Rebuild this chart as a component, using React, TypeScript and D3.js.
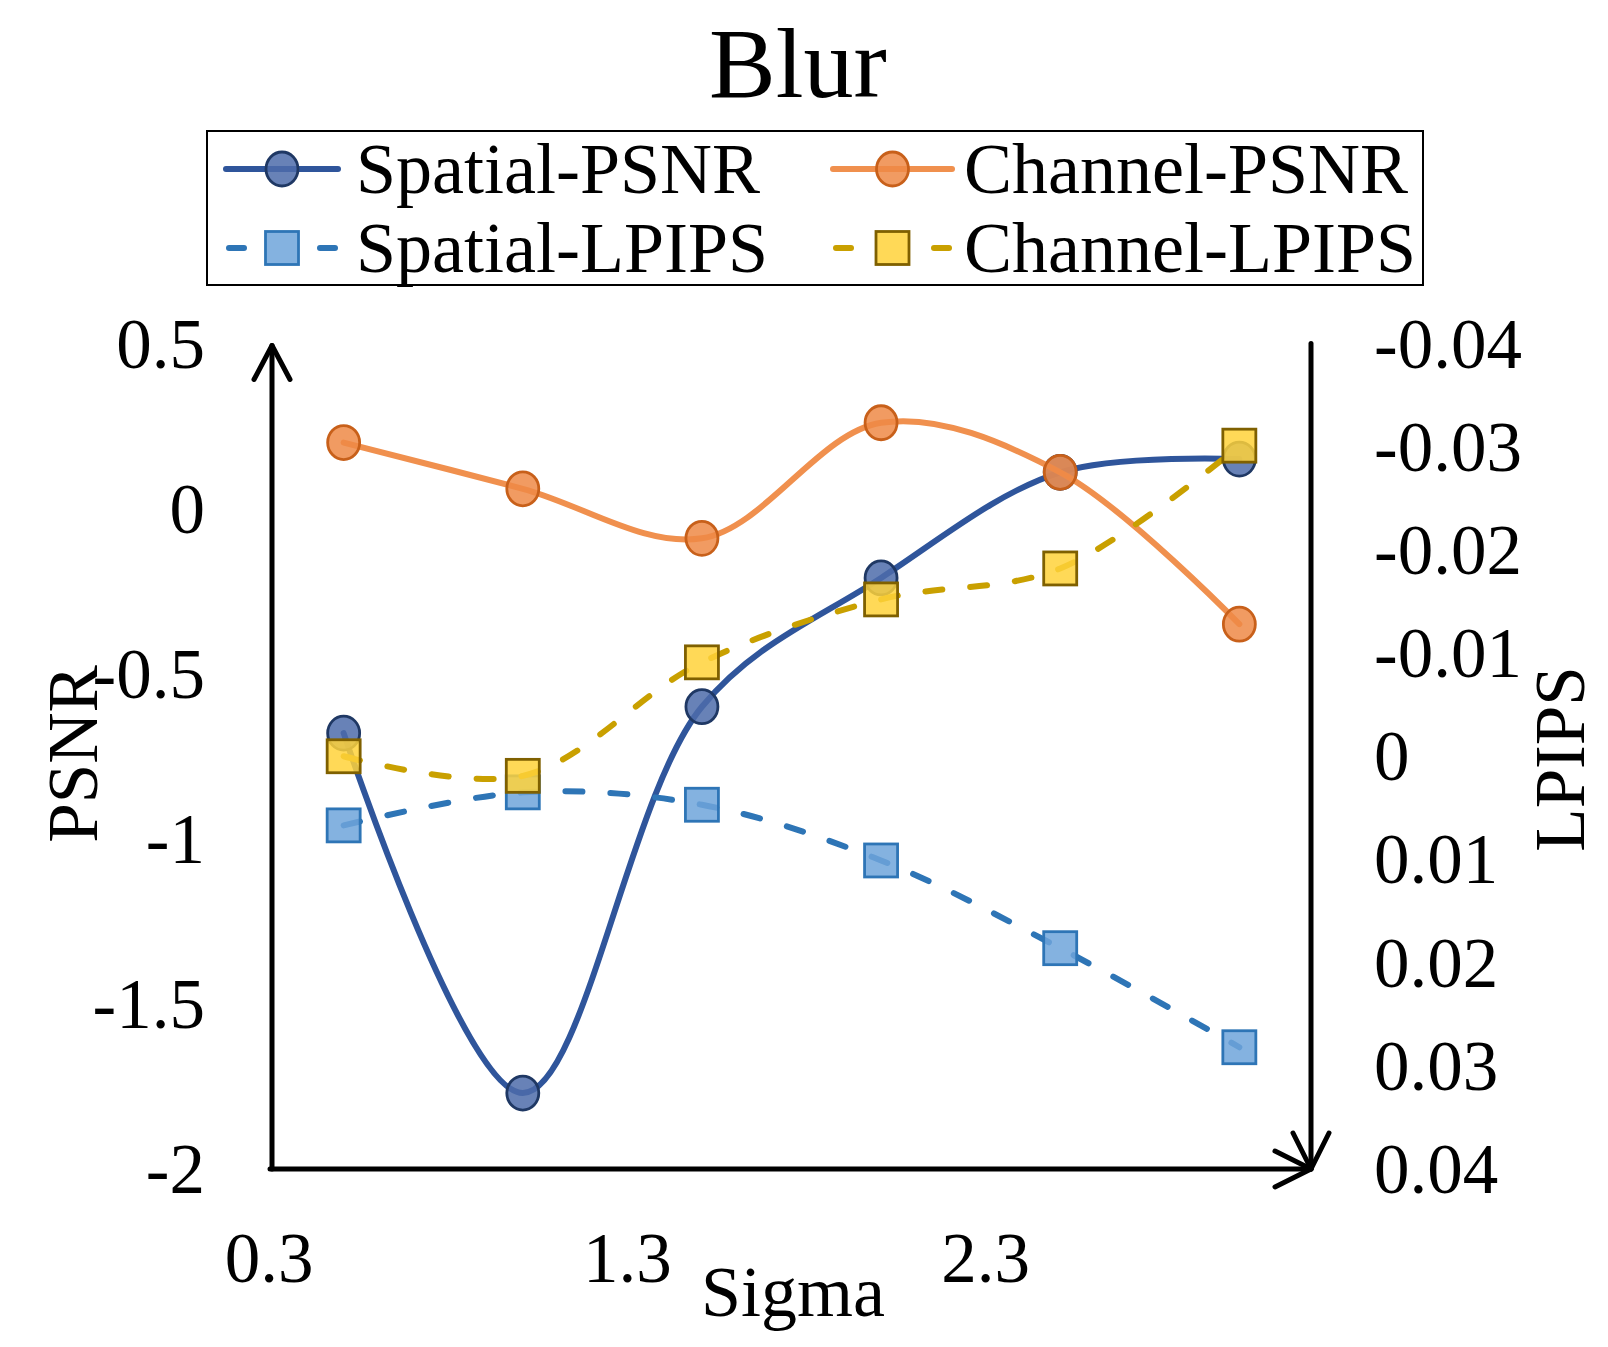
import React from "react";
import * as d3 from "d3";

const sigma = [0.5, 1.0, 1.5, 2.0, 2.5, 3.0];
const spatialPSNR = [-0.68, -1.77, -0.6, -0.21, 0.11, 0.15];
const channelPSNR = [0.2, 0.06, -0.09, 0.26, 0.11, -0.35];
const spatialLPIPS = [0.0067, 0.0035, 0.0047, 0.0101, 0.0186, 0.0282];
const channelLPIPS = [0.0, 0.0019, -0.0091, -0.0152, -0.0182, -0.0301];

const xTicks = [0.3, 1.3, 2.3];
const psnrTicks = [0.5, 0, -0.5, -1, -1.5, -2];
const lpipsTicks = [-0.04, -0.03, -0.02, -0.01, 0, 0.01, 0.02, 0.03, 0.04];

const W = 1608;
const H = 1347;
const FONT = "'Liberation Serif', 'Times New Roman', serif";

const x = d3.scaleLinear().domain([0.3, 3.2]).range([272, 1311]);
const yL = d3.scaleLinear().domain([-2, 0.5]).range([1169, 343.5]);
const yR = d3.scaleLinear().domain([0.04, -0.04]).range([1169, 343.5]);

type Series = {
  name: string;
  values: number[];
  axis: "L" | "R";
  line: string;
  fill: string;
  stroke: string;
  marker: "circle" | "square";
  dash?: string;
};

const series: Series[] = [
  { name: "Spatial-PSNR", values: spatialPSNR, axis: "L", line: "#2F559B", fill: "#4D6CAA", stroke: "#1F3864", marker: "circle" },
  { name: "Spatial-LPIPS", values: spatialLPIPS, axis: "R", line: "#2E75B6", fill: "#6FA5DB", stroke: "#2E75B6", marker: "square", dash: "17 28" },
  { name: "Channel-PSNR", values: channelPSNR, axis: "L", line: "#F0904E", fill: "#EF8A46", stroke: "#C8601A", marker: "circle" },
  { name: "Channel-LPIPS", values: channelLPIPS, axis: "R", line: "#C9A000", fill: "#FFD23A", stroke: "#7F6000", marker: "square", dash: "17 28" },
];

const lineGen = (ys: d3.ScaleLinear<number, number>) =>
  d3
    .line<[number, number]>()
    .x((d) => x(d[0]))
    .y((d) => ys(d[1]))
    .curve(d3.curveCatmullRom.alpha(0.5));

function Marker({ s, cx, cy }: { s: Series; cx: number; cy: number }) {
  if (s.marker === "circle") {
    return (
      <ellipse cx={cx} cy={cy} rx={16} ry={17} fill={s.fill} fillOpacity={0.85} stroke={s.stroke} strokeWidth={2.8} />
    );
  }
  return (
    <rect x={cx - 16.5} y={cy - 16.5} width={33} height={33} fill={s.fill} fillOpacity={0.85} stroke={s.stroke} strokeWidth={2.8} />
  );
}

const legendPos = [
  { lx1: 226, lx2: 338, y: 169, tx: 356 },
  { lx1: 226, lx2: 338, y: 248, tx: 356 },
  { lx1: 833, lx2: 952, y: 169, tx: 964 },
  { lx1: 833, lx2: 952, y: 248, tx: 964 },
];

export default function App() {
  const xAxisY = yL(-2);
  const leftX = x(0.3);
  const rightX = x(3.2);
  const topY = yL(0.5);
  return (
    <svg width={W} height={H} style={{ position: "absolute", left: 0, top: 0, background: "#fff" }} fontFamily={FONT}>
      <rect x={0} y={0} width={W} height={H} fill="#fff" />
      {/* Title */}
      <text x={798} y={97} fontSize={100} textAnchor="middle" fill="#000">Blur</text>

      {/* Legend */}
      <rect x={207} y={131} width={1216} height={154} fill="none" stroke="#000" strokeWidth={2} />
      {series.map((s, i) => {
        const p = legendPos[i];
        const mx = (p.lx1 + p.lx2) / 2;
        return (
          <g key={s.name}>
            {s.dash ? (
              <g stroke={s.line} strokeWidth={6} strokeLinecap="round">
                <line x1={p.lx1 + 3} x2={p.lx1 + 18} y1={p.y} y2={p.y} />
                <line x1={p.lx2 - 18} x2={p.lx2 - 3} y1={p.y} y2={p.y} />
              </g>
            ) : (
              <line x1={p.lx1} x2={p.lx2} y1={p.y} y2={p.y} stroke={s.line} strokeWidth={6} strokeLinecap="round" />
            )}
            <Marker s={s} cx={mx} cy={p.y} />
            <text x={p.tx} y={p.y + 24} fontSize={72} fill="#000">{s.name}</text>
          </g>
        );
      })}

      {/* Axes */}
      <g stroke="#000" strokeWidth={5} fill="none" strokeLinecap="round" strokeLinejoin="round">
        <line x1={leftX} x2={leftX} y1={xAxisY} y2={topY + 2} />
        <polyline points={`${leftX - 18},${topY + 36} ${leftX},${topY + 2} ${leftX + 18},${topY + 36}`} />
        <line x1={leftX - 2} x2={rightX} y1={xAxisY} y2={xAxisY} />
        <polyline points={`${rightX - 36},${xAxisY - 18} ${rightX},${xAxisY} ${rightX - 36},${xAxisY + 18}`} />
        <line x1={rightX} x2={rightX} y1={topY} y2={xAxisY} />
        <polyline points={`${rightX - 18},${xAxisY - 36} ${rightX},${xAxisY} ${rightX + 18},${xAxisY - 36}`} />
      </g>

      {/* Left ticks */}
      {psnrTicks.map((t) => (
        <text key={"l" + t} x={205} y={yL(t) + 24} fontSize={71} textAnchor="end" fill="#000">{String(t)}</text>
      ))}
      {/* Right ticks */}
      {lpipsTicks.map((t) => (
        <text key={"r" + t} x={1374} y={yR(t) + 24} fontSize={71} textAnchor="start" fill="#000">{t === 0 ? "0" : String(t)}</text>
      ))}
      {/* X ticks */}
      {xTicks.map((t) => (
        <text key={"x" + t} x={x(t) - 3} y={1282} fontSize={71} textAnchor="middle" fill="#000">{t.toFixed(1)}</text>
      ))}

      {/* Axis titles */}
      <text x={793} y={1316} fontSize={72} textAnchor="middle" fill="#000">Sigma</text>
      <text transform={`translate(97,754) rotate(-90)`} fontSize={71} textAnchor="middle" fill="#000">PSNR</text>
      <text transform={`translate(1584,759) rotate(-90)`} fontSize={71} textAnchor="middle" fill="#000">LPIPS</text>

      {/* Series */}
      {series.map((s) => {
        const ys = s.axis === "L" ? yL : yR;
        const pts = sigma.map((v, i) => [v, s.values[i]] as [number, number]);
        return (
          <g key={s.name}>
            <path d={lineGen(ys)(pts) || ""} fill="none" stroke={s.line} strokeWidth={6} strokeLinecap="round" strokeDasharray={s.dash} />
            {pts.map((p, i) => (
              <Marker key={i} s={s} cx={x(p[0])} cy={ys(p[1])} />
            ))}
          </g>
        );
      })}
    </svg>
  );
}
